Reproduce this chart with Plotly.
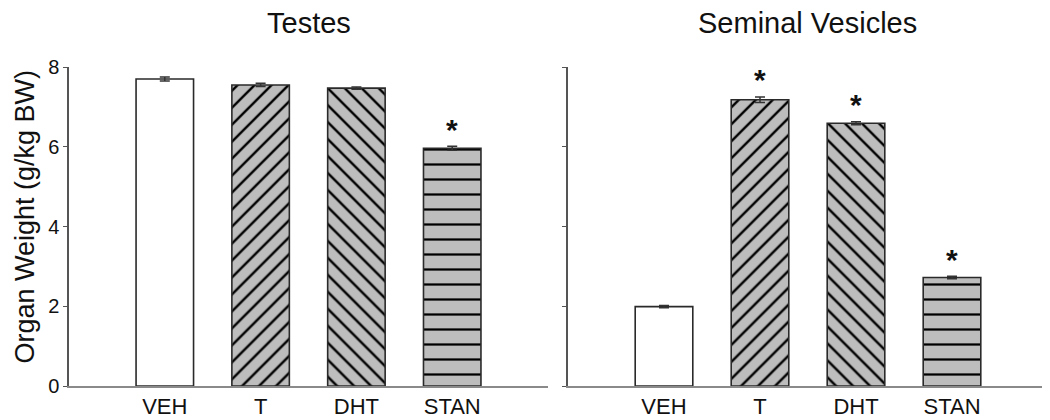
import plotly.graph_objects as go

categories = ["VEH", "T", "DHT", "STAN"]
testes_values = [7.70, 7.55, 7.47, 5.96]
testes_errors = [0.05, 0.04, 0.03, 0.05]
testes_sig = [False, False, False, True]
vesicle_values = [1.99, 7.18, 6.59, 2.72]
vesicle_errors = [0.03, 0.07, 0.04, 0.03]
vesicle_sig = [False, True, True, True]
panel_titles = ["Testes", "Seminal Vesicles"]
y_title = "Organ Weight (g/kg BW)"
y_ticks = [0, 2, 4, 6, 8]

positions = list(range(1, len(categories) + 1))
shapes = ["", "/", "\\", "-"]
bg = ["#ffffff", "#bdbdbd", "#bdbdbd", "#bdbdbd"]
sizes = [12, 12, 12, 15]
solid = [0.2, 0.2, 0.2, 0.15]

FONT = "Liberation Sans, Arial, sans-serif"
fig = go.Figure()

for i, (vals, errs, sig) in enumerate([(testes_values, testes_errors, testes_sig),
                                        (vesicle_values, vesicle_errors, vesicle_sig)]):
    xa = "x" if i == 0 else "x2"
    ya = "y" if i == 0 else "y2"
    for j in range(len(categories)):
        pat = dict(shape=shapes[j], fgcolor="#000000", bgcolor=bg[j],
                   size=sizes[j], solidity=solid[j], fillmode="replace")
        fig.add_trace(go.Bar(
            x=[positions[j]], y=[vals[j]], width=0.6,
            marker=dict(color=bg[j], pattern=pat,
                        line=dict(color="#2a2a2a", width=1.6)),
            error_y=dict(type="data", array=[errs[j]], visible=True,
                         color="#333333", thickness=1.5, width=5),
            xaxis=xa, yaxis=ya, showlegend=False, hoverinfo="skip"))
        if sig[j]:
            fig.add_annotation(x=positions[j], y=vals[j] + errs[j], xref=xa, yref=ya,
                               text="<b>*</b>", showarrow=False, yanchor="middle",
                               yshift=17, font=dict(size=30, color="#111111", family=FONT))

axis_y = dict(range=[0, 8], tickvals=y_ticks, showline=True, linecolor="#555555",
              linewidth=1.5, ticks="outside", ticklen=4, tickcolor="#555555",
              showgrid=False, zeroline=False, fixedrange=True, automargin=False)
axis_x = dict(range=[0, 5], tickvals=positions, ticktext=categories, showline=True,
              linecolor="#8a8a8a", linewidth=2, ticks="", showgrid=False, automargin=False,
              zeroline=False, tickfont=dict(size=22, color="#111111", family=FONT))

# page body has an 8px margin, so the figure is sized to fit the 1050x420 window
fig.update_layout(
    width=1042, height=412,
    margin=dict(l=61, r=2, t=59, b=34),
    paper_bgcolor="white", plot_bgcolor="white",
    font=dict(family=FONT, color="#111111"),
    barmode="overlay",
    xaxis=dict(axis_x, domain=[0, 0.4893], anchor="y"),
    xaxis2=dict(axis_x, domain=[0.5097, 1.0], anchor="y2"),
    yaxis=dict(axis_y, anchor="x", tickfont=dict(size=20, color="#111111", family=FONT)),
    yaxis2=dict(axis_y, anchor="x2", showticklabels=False),
)

fig.add_annotation(x=0, y=0.5, xref="paper", yref="paper", text=y_title, textangle=-90,
                   showarrow=False, xanchor="center", yanchor="middle", xshift=-45, yshift=10,
                   font=dict(size=27, color="#111111", family=FONT))

for k, (t, xr) in enumerate(zip(panel_titles, ["x domain", "x2 domain"])):
    fig.add_annotation(x=0.5, y=1.0, xref=xr, yref="paper", text=t, showarrow=False,
                       yanchor="bottom", yshift=26, font=dict(size=29, color="#111111", family=FONT))

fig.write_html("out.html")
